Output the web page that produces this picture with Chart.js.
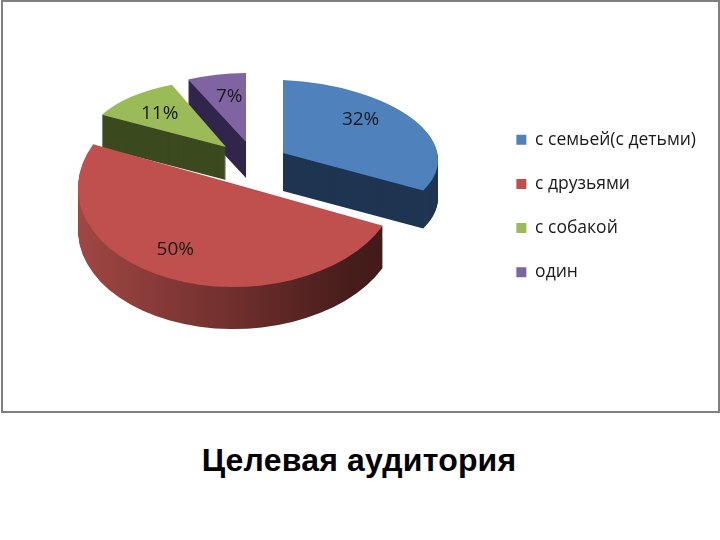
<!DOCTYPE html>
<html>
<head>
<meta charset="utf-8">
<script src="https://cdn.jsdelivr.net/npm/chart.js@4/dist/chart.umd.min.js"></script>
<style>
  body { margin: 0; background: #fff; }
  #frame { position: absolute; left: 1px; top: 0; width: 719px; height: 413px; box-sizing: border-box; border: 2px solid #808080; }
  #pie { position: absolute; left: 0; top: 0; }
  #caption { position: absolute; left: 0; top: 442px; width: 718px; text-align: center; font: bold 32px "Liberation Sans", Arial, sans-serif; letter-spacing: 0.2px; color: #000; }
</style>
</head>
<body>
<div id="frame"></div>
<canvas id="pie" width="720" height="412"></canvas>
<div id="caption">Целевая аудитория</div>
<script>
const categories = ["с семьей(с детьми)", "с друзьями", "с собакой", "один"];
const shares = [32, 50, 11, 7];

const topColors = ["#4f81bd", "#c0504d", "#9bbb59", "#8064a2"];
const wallColors = ["#1f3552", null, "#3c4a20", "#31254c"];

// fake 3d: every slice gets its own pull-out and squash, so the back looks smaller
const pieCenter = { x: 240, y: 165 };
const views = [
  { ox: 43, oy: -12, sx: 155, k: 0, m: 7, sy: 73, depth: 38, lx: -14, ly: -10 },
  { ox: -2, oy: 20, sx: 160, k: 0, m: -3, sy: 102, depth: 42, lx: -15, ly: -1 },
  { ox: -14, oy: -18, sx: 140, k: -6, m: 4, sy: 67, depth: 33, lx: 0, ly: 2 },
  { ox: 6, oy: -23, sx: 136, k: 0, m: 0, sy: 69, depth: 36, lx: 4, ly: 2 },
];
const drawOrder = [3, 2, 0, 1];

function flat(color) {
  return { backgroundColor: color, borderColor: color, borderWidth: 0, borderAlign: "center",
    borderJoinStyle: "round", borderRadius: 0, offset: 0, spacing: 0, circular: true, selfJoin: false };
}

function drawSlice(ctx, arc, v, dy, color) {
  const R = arc.outerRadius;
  const ghost = Object.create(arc);
  ghost.options = flat(color);
  ctx.save();
  ctx.translate(pieCenter.x + v.ox, pieCenter.y + v.oy + dy);
  ctx.transform(v.sx / R, v.m / R, v.k / R, v.sy / R, 0, 0);
  ctx.translate(-arc.x, -arc.y);
  ghost.draw(ctx);
  ctx.restore();
}

const pie3d = {
  id: "pie3d",
  beforeDatasetsDraw(chart) {
    const ctx = chart.ctx;
    const arcs = chart.getDatasetMeta(0).data;
    for (const i of drawOrder) {
      const arc = arcs[i];
      const v = views[i];
      let wall = wallColors[i];
      if (!wall) {
        wall = ctx.createLinearGradient(arc.x - arc.outerRadius, 0, arc.x + arc.outerRadius, 0);
        wall.addColorStop(0, "#a04744");
        wall.addColorStop(0.5, "#6e2e2c");
        wall.addColorStop(0.85, "#461d1b");
        wall.addColorStop(1, "#3f1a18");
      }
      for (let d = v.depth; d > 0; d--) drawSlice(ctx, arc, v, d, wall);
      drawSlice(ctx, arc, v, 0, topColors[i]);
    }
    return false;
  },
  // afterDatasetsDraw is skipped when beforeDatasetsDraw cancels, so labels go here
  afterDraw(chart) {
    const ctx = chart.ctx;
    const arcs = chart.getDatasetMeta(0).data;
    ctx.save();
    ctx.font = '19px "Open Sans", sans-serif';
    ctx.fillStyle = "#1a1a1a";
    ctx.textAlign = "center";
    ctx.textBaseline = "middle";
    arcs.forEach((arc, i) => {
      const v = views[i];
      const mid = (arc.startAngle + arc.endAngle) / 2;
      const X = Math.cos(mid) * 0.7;
      const Y = Math.sin(mid) * 0.7;
      const px = pieCenter.x + v.ox + v.sx * X + v.k * Y + v.lx;
      const py = pieCenter.y + v.oy + v.m * X + v.sy * Y + v.ly;
      ctx.fillText(shares[i] + "%", px, py);
    });
    ctx.restore();
  },
};

new Chart(document.getElementById("pie"), {
  type: "pie",
  data: {
    labels: categories,
    datasets: [{ data: shares, backgroundColor: topColors, borderWidth: 0 }],
  },
  options: {
    responsive: false,
    animation: false,
    layout: { padding: { right: 14 } },
    plugins: {
      tooltip: { enabled: false },
      legend: {
        position: "right",
        labels: {
          boxWidth: 10,
          boxHeight: 10,
          padding: 26.6,
          color: "#1a1a1a",
          font: { family: '"Open Sans", sans-serif', size: 17.5 },
        },
      },
    },
  },
  plugins: [pie3d],
});
</script>
</body>
</html>
